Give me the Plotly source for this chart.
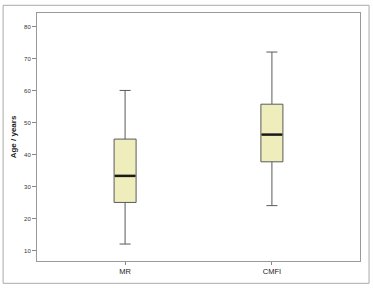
import plotly.graph_objects as go

groups = ["MR", "CMFI"]
lower = [12, 24]
q1 = [25, 37.7]
median = [33.3, 46.2]
q3 = [44.8, 55.7]
upper = [60, 72]
y_ticks = [10, 20, 30, 40, 50, 60, 70, 80]

pos = list(range(len(groups)))
bw = 0.15

fig = go.Figure()
fig.add_trace(go.Box(
    x=pos, q1=q1, median=median, q3=q3, lowerfence=lower, upperfence=upper,
    width=bw, whiskerwidth=0.5, fillcolor="#EEEDBB",
    line=dict(color="#5a5a5a", width=1), showlegend=False, hoverinfo="skip"))

for i, m in zip(pos, median):
    fig.add_trace(go.Scatter(x=[i - bw / 2 + 0.005, i + bw / 2 - 0.005], y=[m, m], mode="lines",
                             line=dict(color="#1a1a1a", width=2.5), showlegend=False, hoverinfo="skip"))

fig.add_shape(type="rect", xref="paper", yref="paper", x0=-0.105, x1=1.028, y0=-0.09, y1=1.031,
              line=dict(color="#aaaaaa", width=1), layer="below")

fig.update_layout(
    width=373, height=288,
    margin=dict(l=37, r=12, t=12, b=19),
    paper_bgcolor="white", plot_bgcolor="white",
    font=dict(family="Liberation Sans, Arial", size=7, color="#333333"),
    xaxis=dict(range=[-0.6, 1.6], tickvals=pos, ticktext=groups, ticks="outside", ticklen=3,
               tickcolor="#888888", showline=True, linecolor="#999999", linewidth=1, mirror=True,
               showgrid=False, zeroline=False, tickfont=dict(size=7.5, color="#222222")),
    yaxis=dict(range=[6.7, 84.2], tickvals=y_ticks, ticks="outside", ticklen=4, tickcolor="#888888",
               showline=True, linecolor="#999999", linewidth=1, mirror=True, showgrid=False,
               zeroline=False, tickfont=dict(size=6, color="#333333"),
               title=dict(text="<b>Age / years</b>", font=dict(size=8, color="#222222"), standoff=6)),
)

fig.write_html("out.html")
